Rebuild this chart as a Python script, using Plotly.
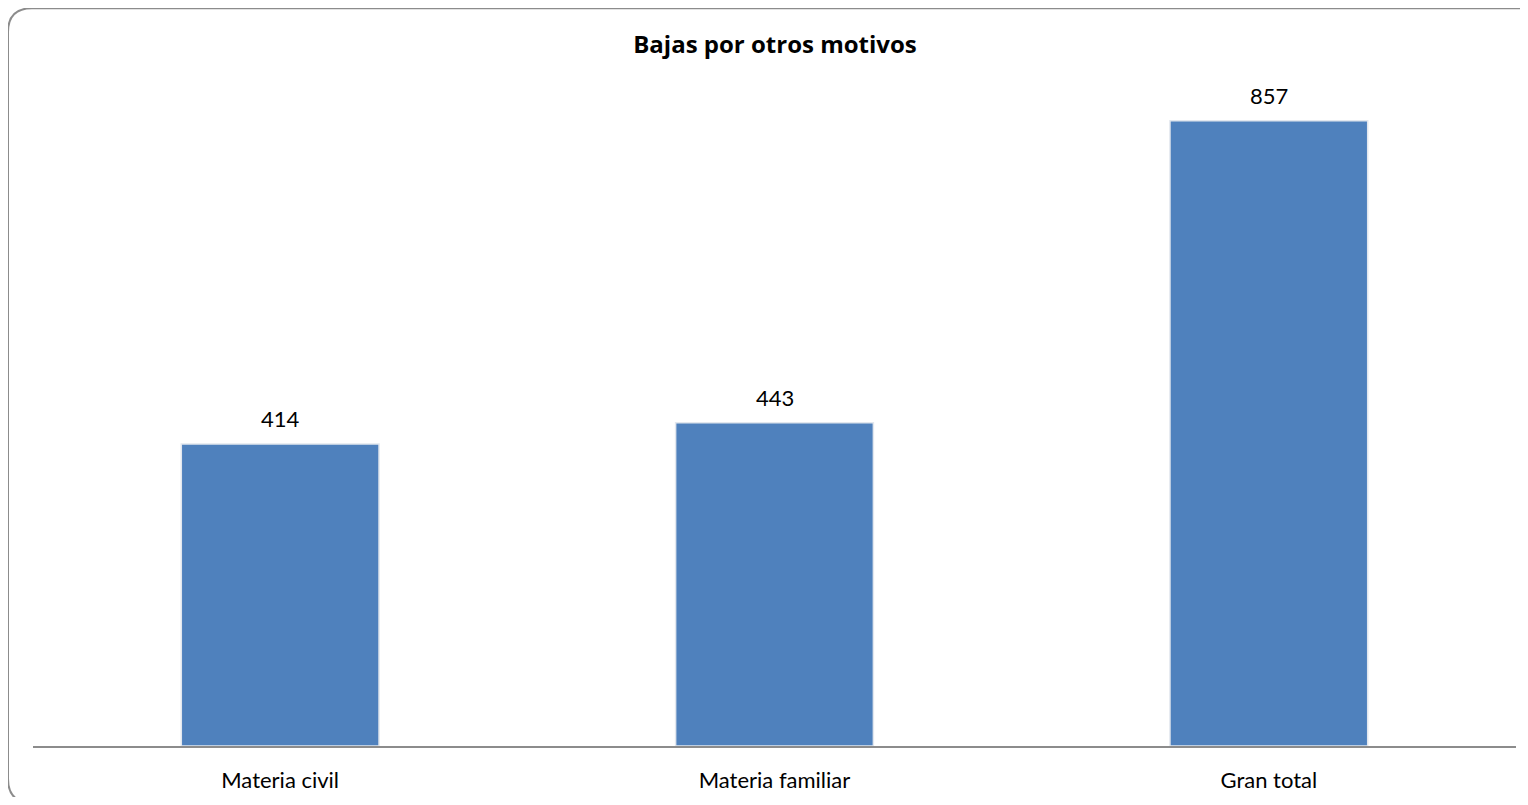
import plotly.graph_objects as go

categories = ["Materia civil", "Materia familiar", "Gran total"]
values = [414, 443, 857]

# page has an 8px body margin; work in figure coordinates (page - 8)
W, H = 1512, 789
L, R, T, B = 25, 4, 52, 48
pw, ph = W - L - R, H - T - B

def px(x):
    return (x - L) / pw

def py(y):
    return (H - B - y) / ph

fig = go.Figure()
fig.add_trace(go.Bar(
    x=categories, y=values,
    marker=dict(color="#4F81BD", line=dict(color="#E2E7EE", width=1.5)),
    cliponaxis=False,
))

for c, v in zip(categories, values):
    fig.add_annotation(x=c, y=v, text=str(v), showarrow=False, yshift=25,
                       yanchor="middle",
                       font=dict(family="Lato, Open Sans, sans-serif", size=22, color="#000000"))

# rounded frame (right and bottom edges lie at/off the page edge)
x0, y0, x1, y1, r = 0, 0, 1540, 798, 24
path = (f"M {px(x0+r)},{py(y0)} L {px(x1-r)},{py(y0)} "
        f"Q {px(x1)},{py(y0)} {px(x1)},{py(y0+r)} L {px(x1)},{py(y1-r)} "
        f"Q {px(x1)},{py(y1)} {px(x1-r)},{py(y1)} L {px(x0+r)},{py(y1)} "
        f"Q {px(x0)},{py(y1)} {px(x0)},{py(y1-r)} L {px(x0)},{py(y0+r)} "
        f"Q {px(x0)},{py(y0)} {px(x0+r)},{py(y0)} Z")
fig.add_shape(type="path", path=path, xref="paper", yref="paper",
              line=dict(color="#8C8C8C", width=2), layer="below")

fig.update_layout(
    width=W, height=H,
    margin=dict(l=L, r=R, t=T, b=B),
    paper_bgcolor="white", plot_bgcolor="white",
    bargap=0.6,
    showlegend=False,
    title=dict(text="<b>Bajas por otros motivos</b>", x=767 / W, xanchor="center",
               y=1 - 37 / H, yanchor="middle",
               font=dict(family="Open Sans, sans-serif", size=24, color="#000000")),
    xaxis=dict(showline=True, linecolor="#8C8C8C", linewidth=2, ticks="",
               ticklabelstandoff=14,
               tickfont=dict(family="Lato, Open Sans, sans-serif", size=22, color="#000000"),
               showgrid=False),
    yaxis=dict(visible=False, range=[0, (H - B - T) / (628 / 857)], showgrid=False),
)

fig.write_html("out.html")
